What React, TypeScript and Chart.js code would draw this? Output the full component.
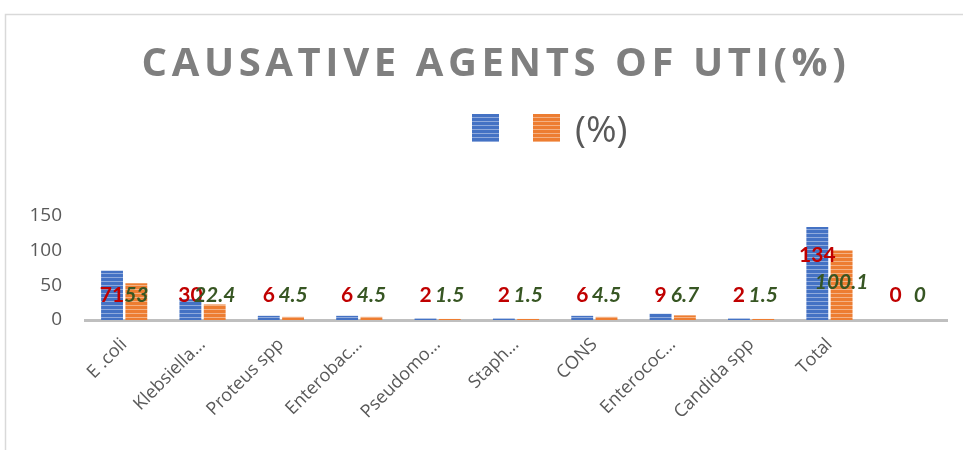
import React, { useEffect, useRef } from "react";
import { Chart, registerables } from "chart.js";

Chart.register(...registerables);

const categories = [
  "E .coli",
  "Klebsiella…",
  "Proteus spp",
  "Enterobac…",
  "Pseudomo…",
  "Staph…",
  "CONS",
  "Enterococ…",
  "Candida spp",
  "Total",
  "",
];
const countValues = [71, 30, 6, 6, 2, 2, 6, 9, 2, 134, 0];
const percentValues = [53, 22.4, 4.5, 4.5, 1.5, 1.5, 4.5, 6.7, 1.5, 100.1, 0];
const seriesNames = ["", "(%)"];
const yMin = 0;
const yMax = 150;
const yStep = 50;
const titleText = "CAUSATIVE AGENTS OF UTI(%)";

function stripe(base: string, light: string): CanvasPattern | string {
  const c = document.createElement("canvas");
  c.width = 4;
  c.height = 4;
  const g = c.getContext("2d");
  if (!g) return base;
  g.fillStyle = base;
  g.fillRect(0, 0, 4, 4);
  g.fillStyle = light;
  g.fillRect(0, 1, 4, 1);
  const p = g.createPattern(c, "repeat");
  return p || base;
}

const decorPlugin = {
  id: "decor",
  beforeDraw(chart: any) {
    const ctx = chart.ctx;
    ctx.save();
    ctx.fillStyle = "#ffffff";
    ctx.fillRect(0, 0, chart.width, chart.height);
    ctx.strokeStyle = "#D9D9D9";
    ctx.lineWidth = 1.5;
    ctx.beginPath();
    ctx.moveTo(5.5, chart.height + 2);
    ctx.lineTo(5.5, 14.5);
    ctx.lineTo(chart.width + 2, 14.5);
    ctx.stroke();
    ctx.restore();
  },
  afterDraw(chart: any) {
    const ctx = chart.ctx;
    ctx.save();
    // title
    ctx.fillStyle = "#7F7F7F";
    ctx.font = "bold 40px 'Open Sans'";
    (ctx as any).letterSpacing = "4.6px";
    ctx.textAlign = "center";
    ctx.textBaseline = "middle";
    ctx.fillText(titleText, 496, 65);
    (ctx as any).letterSpacing = "0px";

    // legend
    const ds = chart.data.datasets;
    const boxX = [472, 533];
    ds.forEach((d: any, i: number) => {
      ctx.fillStyle = d.backgroundColor;
      ctx.fillRect(boxX[i], 114, 27, 28);
      if (d.label) {
        ctx.fillStyle = "#595959";
        ctx.font = "37px 'Open Sans'";
        ctx.textAlign = "left";
        ctx.textBaseline = "middle";
        ctx.fillText(d.label, boxX[i] + 42, 131);
      }
    });

    // data labels
    const yScale = chart.scales.y;
    const styles = [
      { font: "bold 21px Lato", color: "#C00000", factor: 0.7 },
      { font: "italic bold 21px Lato", color: "#375623", factor: 0.55 },
    ];
    ds.forEach((d: any, di: number) => {
      const meta = chart.getDatasetMeta(di);
      const st = styles[di];
      meta.data.forEach((el: any, i: number) => {
        const v = d.data[i];
        const anchor = v >= 100 ? v * st.factor : 35;
        const y = yScale.getPixelForValue(anchor);
        ctx.font = st.font;
        ctx.fillStyle = st.color;
        ctx.textAlign = "center";
        ctx.textBaseline = "middle";
        ctx.fillText(String(v), el.x, y);
      });
    });
    ctx.restore();
  },
};

export default function App() {
  const ref = useRef<HTMLCanvasElement | null>(null);
  useEffect(() => {
    if (!ref.current) return;
    const blue = stripe("#4472C4", "#8FAADC");
    const orange = stripe("#ED7D31", "#F4B183");
    const chart = new Chart(ref.current, {
      type: "bar",
      data: {
        labels: categories,
        datasets: [
          {
            label: seriesNames[0],
            data: countValues,
            backgroundColor: blue as any,
            borderWidth: 0,
            categoryPercentage: 0.62,
            barPercentage: 0.9,
          },
          {
            label: seriesNames[1],
            data: percentValues,
            backgroundColor: orange as any,
            borderWidth: 0,
            categoryPercentage: 0.62,
            barPercentage: 0.9,
          },
        ],
      },
      options: {
        responsive: false,
        animation: false,
        layout: { padding: { top: 216, right: 16, left: 0, bottom: 0 } },
        plugins: {
          legend: { display: false },
          title: { display: false },
          tooltip: { enabled: false },
        },
        scales: {
          x: {
            grid: { display: false, drawTicks: false },
            border: { display: true, color: "#BFBFBF", width: 3 },
            ticks: {
              autoSkip: false,
              maxRotation: 45,
              minRotation: 45,
              padding: 14,
              color: "#595959",
              font: { family: "'Open Sans'", size: 18 },
            },
            afterFit(scale: any) {
              scale.height = 130;
            },
          },
          y: {
            min: yMin,
            max: yMax,
            grid: { display: false, drawTicks: false },
            border: { display: false },
            ticks: {
              stepSize: yStep,
              padding: 23,
              color: "#595959",
              font: { family: "'Open Sans'", size: 19 },
            },
            afterFit(scale: any) {
              scale.width = 85;
            },
          },
        },
      },
      plugins: [decorPlugin],
    });
    return () => chart.destroy();
  }, []);
  return (
    <div style={{ position: "fixed", left: 0, top: 0, width: 963, height: 450 }}>
      <canvas ref={ref} width={963} height={450} />
    </div>
  );
}
